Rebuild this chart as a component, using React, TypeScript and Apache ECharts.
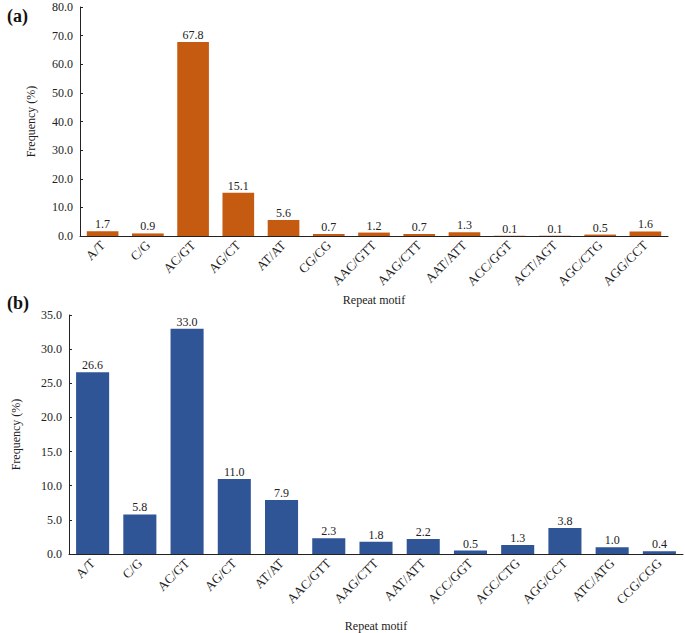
import React, { useEffect, useRef } from "react";
import * as echarts from "echarts";

const categoriesA = ["A/T", "C/G", "AC/GT", "AG/CT", "AT/AT", "CG/CG", "AAC/GTT", "AAG/CTT", "AAT/ATT", "ACC/GGT", "ACT/AGT", "AGC/CTG", "AGG/CCT"];
const valuesA = [1.7, 0.9, 67.8, 15.1, 5.6, 0.7, 1.2, 0.7, 1.3, 0.1, 0.1, 0.5, 1.6];

const categoriesB = ["A/T", "C/G", "AC/GT", "AG/CT", "AT/AT", "AAC/GTT", "AAG/CTT", "AAT/ATT", "ACC/GGT", "AGC/CTG", "AGG/CCT", "ATC/ATG", "CCG/CGG"];
const valuesB = [26.6, 5.8, 33.0, 11.0, 7.9, 2.3, 1.8, 2.2, 0.5, 1.3, 3.8, 1.0, 0.4];

const FONT = "'Liberation Serif', 'Times New Roman', serif";

export default function App() {
  const ref = useRef<HTMLDivElement>(null);
  useEffect(() => {
    document.body.style.margin = "0";
    const chart = echarts.init(ref.current!, null, { renderer: "svg" });
    const axisText = { fontFamily: FONT, fontSize: 12, color: "#222" };
    const xAxisCommon = (idx: number, cats: string[], gap: number) => ({
      type: "category",
      gridIndex: idx,
      data: cats,
      name: "Repeat motif",
      nameLocation: "middle",
      nameGap: gap,
      nameTextStyle: { ...axisText },
      axisLine: { lineStyle: { color: "#222", width: 1 } },
      axisTick: { show: false },
      axisLabel: { ...axisText, fontSize: 13, rotate: 45, interval: 0, margin: 7 },
    });
    const yAxisCommon = (idx: number, max: number, interval: number, gap: number) => ({
      type: "value",
      gridIndex: idx,
      min: 0,
      max,
      interval,
      name: "Frequency (%)",
      nameLocation: "middle",
      nameGap: gap,
      nameRotate: 90,
      nameTextStyle: { ...axisText },
      splitLine: { show: false },
      axisLine: { show: true, lineStyle: { color: "#222", width: 1 } },
      axisTick: { show: true, inside: true, length: 3, lineStyle: { color: "#222" } },
      axisLabel: { ...axisText, margin: 7, formatter: (v: number) => v.toFixed(1) },
    });
    const barLabel = {
      show: true,
      position: "top",
      distance: 1,
      fontFamily: FONT,
      fontSize: 12,
      color: "#222",
      formatter: (p: any) => Number(p.value).toFixed(1),
    };
    chart.setOption({
      animation: false,
      backgroundColor: "#fff",
      title: [
        { text: "(a)", left: 2, top: 2, textStyle: { fontFamily: FONT, fontSize: 18, fontWeight: "bold", color: "#111" } },
        { text: "(b)", left: 2, top: 289, textStyle: { fontFamily: FONT, fontSize: 18, fontWeight: "bold", color: "#111" } },
      ],
      grid: [
        { left: 80, right: 17, top: 7, height: 229 },
        { left: 69, right: 2, top: 315, height: 242 },
      ],
      xAxis: [xAxisCommon(0, categoriesA, 58), xAxisCommon(1, categoriesB, 66)],
      yAxis: [yAxisCommon(0, 80, 10, 43), yAxisCommon(1, 35, 5, 47)],
      series: [
        {
          type: "bar",
          xAxisIndex: 0,
          yAxisIndex: 0,
          data: valuesA,
          barWidth: "70%",
          itemStyle: { color: "#C55A11" },
          label: barLabel,
        },
        {
          type: "bar",
          xAxisIndex: 1,
          yAxisIndex: 1,
          data: valuesB,
          barWidth: "70%",
          itemStyle: { color: "#2F5597" },
          label: barLabel,
        },
      ],
    });
    return () => chart.dispose();
  }, []);
  return <div ref={ref} style={{ width: 685, height: 633 }} />;
}
